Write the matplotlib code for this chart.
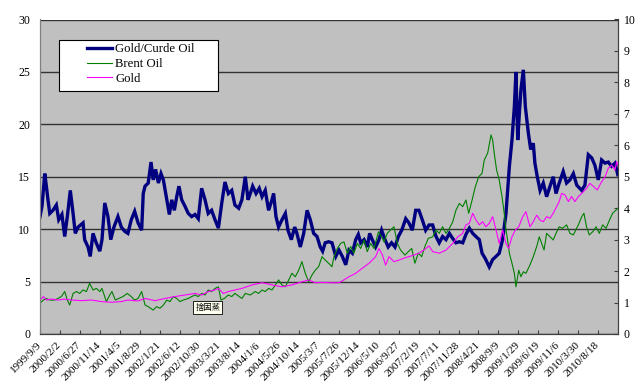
import matplotlib
matplotlib.use("Agg")
import matplotlib.pyplot as plt
from matplotlib.lines import Line2D
from matplotlib.patches import Rectangle

# ---------------- data (trading-day index, value) ----------------
ratio_idx = [0,10,24,32,40,49,65,82,94,110,124,137,152,166,177,191,216,224,241,252,266,282,300,311,325,341,355,371,391,408,425,441,458,475,492,
             510,518,527,543,557,568,580,594,607,619,636,649,661,674,686,697,711,727,744,761,778,794,811,828,844,861,878,895,912,928,945,962,978,
             997,1013,1030,1044,1055,1067,1084,1100,1114,1130,1147,1164,1172,1184,1197,1214,1231,1244,1261,1278,1289,1306,1323,1340,1356,1373,1390,1406,1418,1431,1448,1465,
             1484,1500,1517,1534,1550,1567,1584,1597,1609,1626,1642,1654,1667,1684,1701,1714,1731,1747,1764,1781,1798,1815,1835,1851,1868,1885,1901,1918,1935,1952,
             1970,1987,2003,2020,2037,2054,2071,2087,2104,2121,2137,2154,2171,2187,2204,2218,2234,2254,2271,2288,2304,2321,2338,2355,2368,2380,2388,2397,2405,2413,2425,2435,
             2450,2462,2475,2483,2495,2509,2525,2542,2559,2575,2589,2605,2625,2642,2659,2676,2693,2718,2734,2751,2768,2784,2801,2818,2835,2851,2868,2885,2899]
ratio_val = [11.2,12.2,15.3,14.1,12.8,11.5,11.8,12.3,10.9,11.4,9.3,11.2,13.7,11.5,9.6,10.2,10.6,9.0,8.3,7.4,9.6,8.7,7.9,9.0,12.5,11.2,9.0,10.2,11.2,10.2,9.8,9.6,10.9,11.7,10.6,
             9.9,13.4,14.1,14.4,16.4,14.7,15.7,14.4,15.3,14.7,12.8,11.4,12.8,11.8,13.1,14.1,12.8,12.2,11.5,11.2,11.4,11.0,13.9,12.8,11.5,11.8,10.9,10.1,12.5,14.5,13.4,13.7,12.3,
             12.0,12.8,15.0,12.8,13.4,14.1,13.4,13.9,13.1,13.7,11.8,12.8,13.4,11.2,10.2,10.9,11.5,9.9,9.0,10.2,9.6,8.3,9.6,11.8,10.9,9.6,9.3,8.3,7.9,8.7,8.8,8.7,
             7.4,8.0,7.4,6.6,8.0,7.7,9.0,9.5,8.7,9.0,8.3,9.6,9.0,8.3,9.0,9.9,9.0,8.3,8.7,8.3,9.3,9.9,11.0,10.6,9.9,11.8,11.8,10.9,9.9,10.4,
             10.4,9.3,8.7,9.3,9.0,9.6,9.1,8.7,8.8,8.7,9.5,10.1,9.6,9.3,9.0,7.7,7.2,6.4,7.1,7.4,7.7,9.0,11.5,16.0,18.5,21.7,25.0,18.5,21.0,23.3,25.2,21.7,
             19.2,17.6,18.2,16.3,15.0,13.7,14.4,13.1,14.1,15.0,13.4,14.4,15.5,14.4,14.7,15.3,14.2,13.7,14.2,17.1,16.8,16.1,14.7,16.6,16.3,16.4,16.0,16.3,15.2]

brent_idx = [0,17,32,49,74,90,107,124,137,149,166,183,199,216,233,249,266,283,300,311,333,350,361,378,395,416,438,458,475,492,
             510,527,543,568,585,602,619,636,652,669,686,702,719,744,761,778,794,811,828,844,861,878,895,908,925,945,962,978,
             1013,1030,1055,1080,1097,1114,1130,1147,1164,1181,1197,1214,1231,1248,1264,1281,1298,1314,1331,1348,1365,1381,1398,1415,1431,1448,1465,
             1475,1492,1508,1525,1542,1559,1575,1592,1609,1626,1642,1659,1676,1698,1714,1726,1742,1759,1776,1793,1809,1831,1848,1865,1881,1898,1915,1931,1948,
             1970,1987,2003,2020,2037,2054,2071,2087,2104,2121,2137,2151,2168,2184,2201,2218,2229,2246,2263,2271,2279,2291,2304,2318,2329,2338,2346,2355,2368,2380,2388,2402,2413,2425,2438,
             2458,2475,2492,2505,2517,2529,2542,2559,2575,2589,2605,2622,2642,2659,2676,2701,2718,2729,2742,2756,2773,2790,2806,2823,2840,2857,2873,2890,2899]
brent_val = [0.98,1.08,1.13,1.08,1.08,1.13,1.19,1.35,1.08,0.92,1.29,1.35,1.29,1.40,1.35,1.61,1.40,1.45,1.35,1.45,1.03,1.24,1.35,1.08,1.13,1.19,1.29,1.19,1.08,1.13,
             1.35,0.92,0.87,0.76,0.87,0.82,0.92,1.08,1.03,1.19,1.13,1.03,1.08,1.13,1.19,1.24,1.19,1.29,1.24,1.40,1.35,1.45,1.50,1.08,1.13,1.24,1.19,1.29,
             1.13,1.29,1.24,1.35,1.29,1.40,1.35,1.45,1.40,1.56,1.72,1.56,1.50,1.72,1.93,1.82,2.03,2.30,1.93,1.66,1.88,2.03,2.14,2.46,2.35,2.25,2.14,
             2.46,2.72,2.88,2.93,2.57,2.78,2.57,2.88,2.72,2.99,2.62,2.88,2.72,3.25,3.09,2.93,3.20,3.31,3.41,2.88,2.67,2.51,2.62,2.72,2.25,2.57,2.46,2.78,3.04,
             3.09,3.31,3.20,3.41,3.20,3.36,3.57,3.94,4.15,4.05,4.26,3.84,4.26,4.68,5.0,5.11,5.53,5.75,6.33,6.17,5.75,5.21,4.90,4.37,3.84,3.31,2.99,2.57,2.25,1.93,1.50,2.03,1.82,1.98,1.93,
             2.19,2.46,2.78,3.09,2.88,2.67,3.20,3.09,2.99,3.20,3.41,3.36,3.47,3.20,3.15,3.47,3.73,3.84,3.41,3.15,3.25,3.41,3.20,3.47,3.36,3.62,3.84,3.94,4.0]

gold_idx = [0,17,32,57,90,124,157,208,258,308,358,408,441,492,
            527,577,627,677,727,778,811,844,878,895,920,945,978,
            1013,1064,1114,1164,1214,1264,1314,1348,1381,1415,1465,
            1500,1525,1550,1584,1617,1651,1684,1701,1718,1734,1751,1776,1801,1826,1851,1876,1901,1926,1952,
            1970,2003,2037,2071,2096,2121,2137,2154,2171,2187,2204,2221,2237,2254,2271,2288,2304,2321,2338,2351,2368,2385,2402,2422,2438,
            2458,2475,2492,2509,2525,2542,2559,2575,2592,2605,2617,2634,2651,2667,2684,2701,2718,2742,2759,2779,2796,2813,2835,2851,2868,2885,2893,2899]
gold_val = [1.08,1.19,1.08,1.11,1.08,1.11,1.08,1.06,1.08,1.03,1.01,1.03,1.08,1.05,
            1.13,1.06,1.13,1.19,1.24,1.29,1.24,1.35,1.40,1.45,1.29,1.35,1.40,
            1.45,1.56,1.63,1.56,1.50,1.56,1.66,1.72,1.63,1.64,1.63,
            1.63,1.72,1.82,1.93,2.09,2.25,2.46,2.72,2.51,2.19,2.46,2.30,2.35,2.41,2.46,2.51,2.57,2.67,2.80,
            2.62,2.57,2.67,2.88,3.09,3.20,3.47,3.52,3.84,3.63,3.47,3.57,3.41,3.52,3.73,3.31,2.88,3.31,2.88,2.72,3.09,3.31,3.41,3.73,3.89,
            3.41,3.57,3.78,3.62,3.57,3.73,3.68,3.84,4.05,4.21,4.47,4.42,4.21,4.37,4.21,4.37,4.47,4.63,4.79,4.68,4.58,4.79,5.0,5.27,5.37,5.21,5.48,5.37]

tick_labels = ["1999/9/9","2000/2/2","2000/6/27","2000/11/14","2001/4/5","2001/8/29","2002/1/21",
               "2002/6/12","2002/10/30","2003/3/21","2003/8/14","2004/1/6","2004/5/26","2004/10/14",
               "2005/3/7","2005/7/26","2005/12/14","2006/5/10","2006/9/27","2007/2/19","2007/7/11",
               "2007/11/28","2008/4/21","2008/9/9","2009/1/29","2009/6/19","2009/11/6","2010/3/30","2010/8/18"]
tick_idx = [i * 100 for i in range(len(tick_labels))]
n_days = 2900
series_names = ["Gold/Curde Oil", "Brent Oil", "Gold"]
note_text = "捨固蒸"

# ---------------- figure ----------------
serif = "Liberation Serif"
fig = plt.figure(figsize=(6.4, 3.91), dpi=100)
ax = fig.add_axes([40/640, 57/391, 578/640, 314.5/391])
ax.set_facecolor("#C0C0C0")
ax2 = ax.twinx()

c_ratio, c_brent, c_gold = "#000080", "#008000", "#FF00FF"
ax.plot(ratio_idx, ratio_val, color=c_ratio, lw=2.4, solid_joinstyle="miter")
ax2.plot(brent_idx, brent_val, color=c_brent, lw=0.8)
ax2.plot(gold_idx, gold_val, color=c_gold, lw=0.8)

ax.set_xlim(0, n_days)
ax.set_ylim(0, 30)
ax2.set_ylim(0, 10)
ax.set_yticks(range(0, 31, 5))
ax2.set_yticks(range(0, 11))
ax.yaxis.grid(True, color="#333333", lw=1.0)
ax.set_axisbelow(True)

ax.set_xticks(tick_idx)
ax.set_xticklabels(tick_labels, rotation=45, ha="right", va="center",
                   rotation_mode="anchor", fontfamily=serif, fontsize=8)
ax.tick_params(axis="x", direction="in", length=3, pad=7, color="#404040")
ax.tick_params(axis="y", length=0, pad=7)
ax2.tick_params(axis="y", direction="in", length=3, pad=4, color="#404040")
for lab in ax.get_yticklabels() + ax2.get_yticklabels():
    lab.set_fontfamily(serif)
    lab.set_fontsize(8.5)

for a in (ax, ax2):
    a.spines["top"].set_visible(False)
    a.spines["left"].set_color("#808080")
    a.spines["right"].set_color("#404040")
    a.spines["bottom"].set_color("#404040")

# legend
handles = [Line2D([], [], color=c_ratio, lw=2.4),
           Line2D([], [], color=c_brent, lw=0.8),
           Line2D([], [], color=c_gold, lw=0.8)]
ax2.add_patch(Rectangle((19/578, (334-91)/314.5), (218-59)/578, 51/314.5,
                        transform=ax2.transAxes, facecolor="white",
                        edgecolor="black", lw=0.8, zorder=5))
leg = ax2.legend(handles, series_names, loc="upper left",
                 bbox_to_anchor=((86-40)/578, (334-42)/314.5),
                 frameon=False, prop={"family": serif, "size": 9.2},
                 handlelength=1.9, handletextpad=0.3, labelspacing=0.22,
                 borderpad=0.1, borderaxespad=0)
leg.set_zorder(6)

ax2.text((207.8-40)/578, (334-307.3)/314.5, note_text, transform=ax2.transAxes,
         ha="center", va="center", fontsize=6,
         family=["Noto Sans CJK TC", "DejaVu Sans"],
         bbox=dict(boxstyle="square,pad=0.25", facecolor="#FFFFF0",
                   edgecolor="black", lw=0.6), zorder=7)

fig.savefig("out.png", dpi=100)
